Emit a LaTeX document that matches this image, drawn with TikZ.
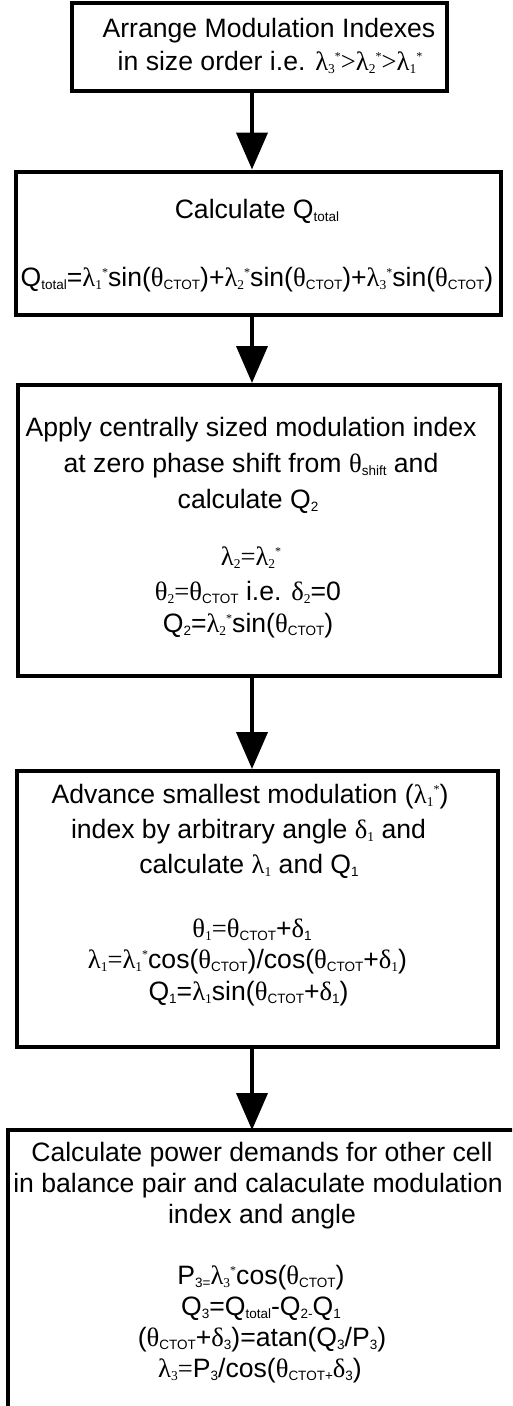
\documentclass[tikz,border=0pt]{standalone}
\usepackage{fontspec}
\setmainfont{Liberation Sans}
\newfontfamily\serf{Liberation Serif}
\usetikzlibrary{arrows.meta}
\newcommand{\sbs}[1]{\raisebox{-3pt}{\fontsize{13.5}{13.5}\selectfont #1}}
\newcommand{\sps}[1]{\raisebox{10pt}{\fontsize{12}{12}\selectfont #1}}
\tikzset{
  box/.style={draw, line width=4pt, inner sep=0pt},
  edge/.style={line width=4pt},
  txt/.style={anchor=base, inner sep=0pt, font=\fontsize{26.6}{30}\selectfont},
  arr/.style={line width=4pt, -{Triangle[length=37pt,width=31pt]}},
}
\begin{document}
\begin{tikzpicture}[x=1pt,y=-1pt]
\useasboundingbox (0,0) rectangle (512,1406);
\clip (0,0) rectangle (512,1406);
% boxes
\node[box, minimum width=375pt, minimum height=88.5pt] (b1) at (259.5,46.75) {};
\node[box, minimum width=485pt, minimum height=143pt] (b2) at (258.5,243) {};
\node[box, minimum width=482pt, minimum height=291pt] (b3) at (259,530.5) {};
\node[box, minimum width=481pt, minimum height=276pt] (b4) at (257.5,909) {};
\node[inner sep=0pt, outer sep=2pt, minimum width=560pt, minimum height=400pt] (b5) at (290,1332) {};
\draw[edge] (b5.south west) -- (b5.north west) -- (b5.north east);
% arrows
\coordinate (ax) at (252,0);
\draw[arr] (b1.south -| ax) -- (b2.north -| ax);
\draw[arr] (b2.south -| ax) -- (b3.north -| ax);
\draw[arr] (b3.south -| ax) -- (b4.north -| ax);
\draw[arr] (b4.south -| ax) -- (b5.north -| ax);
% box 1
\node[txt] (t11) at (269,37.5) {Arrange Modulation Indexes};
\node[txt] (t12) at (270,70.5) {in size order i.e. {\serf λ\sbs{3}\sps{*}>λ\sbs{2}\sps{*}>λ\sbs{1}\sps{*}}};
% box 2
\node[txt] (t21) at (257,218) {Calculate Q\sbs{total}};
\node[txt] (t22) at (257,286) {Q\sbs{total}={\serf λ\sbs{1}\sps{*}}sin({\serf θ}\sbs{CTOT})+{\serf λ\sbs{2}\sps{*}}sin({\serf θ}\sbs{CTOT})+{\serf λ\sbs{3}\sps{*}}sin({\serf θ}\sbs{CTOT})};
% box 3
\node[txt] (t31) at (251,436) {Apply centrally sized modulation index};
\node[txt] (t32) at (251,472) {at zero phase shift from {\serf θ}\sbs{shift} and};
\node[txt] (t33) at (248,508) {calculate Q\sbs{2}};
\node[txt] (t34) at (251,565) {{\serf λ\sbs{2}=λ\sbs{2}\sps{*}}};
\node[txt] (t35) at (248,600) {{\serf θ\sbs{2}=θ}\sbs{CTOT} i.e. {\serf δ\sbs{2}}=0};
\node[txt] (t36) at (248,632) {Q\sbs{2}={\serf λ\sbs{2}\sps{*}}sin({\serf θ}\sbs{CTOT})};
% box 4
\node[txt] (t41) at (250,803) {Advance smallest modulation ({\serf λ\sbs{1}\sps{*}})};
\node[txt] (t42) at (248.5,838) {index by arbitrary angle {\serf δ\sbs{1}} and};
\node[txt] (t43) at (249,873) {calculate {\serf λ\sbs{1}} and Q\sbs{1}};
\node[txt] (t44) at (252,937) {{\serf θ\sbs{1}=θ}\sbs{CTOT}+{\serf δ}\sbs{1}};
\node[txt] (t45) at (247.5,968) {{\serf λ\sbs{1}=λ\sbs{1}\sps{*}}cos({\serf θ}\sbs{CTOT})/cos({\serf θ}\sbs{CTOT}+{\serf δ\sbs{1}})};
\node[txt] (t46) at (248.5,1000) {Q\sbs{1}={\serf λ\sbs{1}}sin({\serf θ}\sbs{CTOT}+{\serf δ}\sbs{1})};
% box 5
\node[txt] (t51) at (262,1161) {Calculate power demands for other cell};
\node[txt] (t52) at (258,1192) {in balance pair and calaculate modulation};
\node[txt] (t53) at (262,1223) {index and angle};
\node[txt] (t54) at (261,1284) {P\sbs{3=}{\serf λ\sbs{3}\sps{*}}cos({\serf θ}\sbs{CTOT})};
\node[txt] (t55) at (261,1315) {Q\sbs{3}=Q\sbs{total}-Q\sbs{2-}Q\sbs{1}};
\node[txt] (t56) at (262,1346) {({\serf θ}\sbs{CTOT}+{\serf δ}\sbs{3})=atan(Q\sbs{3}/P\sbs{3})};
\node[txt] (t57) at (260,1377) {{\serf λ\sbs{3}=}P\sbs{3}/cos({\serf θ}\sbs{CTOT+}{\serf δ}\sbs{3})};
\end{tikzpicture}
\end{document}
